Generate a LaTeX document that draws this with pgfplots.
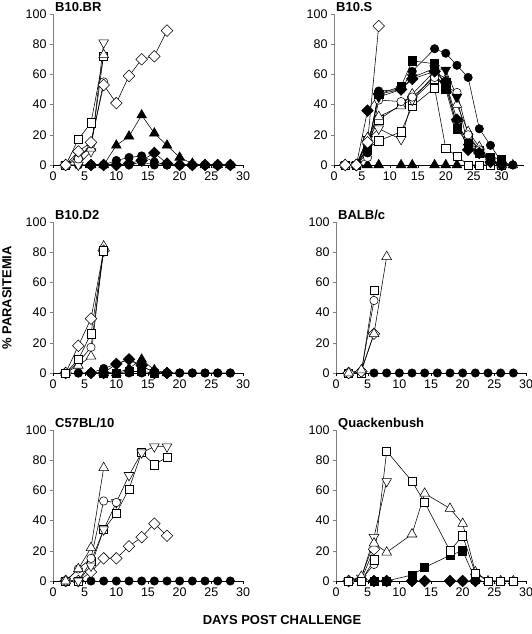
\documentclass[border=0pt]{standalone}
\usepackage{pgfplots}
\pgfplotsset{compat=1.18}
\usepackage{fontspec}
\setmainfont{Liberation Sans}
\pgfplotsset{
  panel/.style={scale only axis, width=190pt, height=151pt,
    xmin=0, xmax=30, ymin=0, ymax=100,
    axis lines*=left, xtick={0,5,...,30}, ytick={0,20,...,100},
    tick align=outside, major tick length=3pt,
    clip=false,
    tick label style={font=\fontsize{12.5}{14}\selectfont},
    /pgf/number format/assume math mode=true,
    x axis line style={black, line width=0.6pt},
    y axis line style={gray, line width=0.6pt},
    xtick style={black}, ytick style={gray},
    anchor=south west},
  ln/.style={black, line width=0.55pt},
  osq/.style={ln, mark=square*, mark size=4.1pt, mark options={solid, fill=white, draw=black, line width=0.55pt}},
  fsq/.style={ln, mark=square*, mark size=4.1pt, mark options={solid, fill=black, draw=black}},
  ocirc/.style={ln, mark=*, mark size=4.2pt, mark options={solid, fill=white, draw=black, line width=0.55pt}},
  fcirc/.style={ln, mark=*, mark size=4.2pt, mark options={solid, fill=black, draw=black}},
  otri/.style={ln, mark=triangle*, mark size=5.6pt, mark options={solid, fill=white, draw=black, line width=0.55pt}},
  ftri/.style={ln, mark=triangle*, mark size=5.6pt, mark options={solid, fill=black, draw=black}},
  odtri/.style={ln, mark=triangle*, mark size=5.6pt, mark options={solid, fill=white, draw=black, rotate=180, line width=0.55pt}},
  fdtri/.style={ln, mark=triangle*, mark size=5.6pt, mark options={solid, fill=black, draw=black, rotate=180}},
  odia/.style={ln, mark=square*, mark size=4.1pt, mark options={solid, fill=white, draw=black, rotate=45, line width=0.55pt}},
  fdia/.style={ln, mark=square*, mark size=4.1pt, mark options={solid, fill=black, draw=black, rotate=45}},
}
\newcommand{\ptitle}[1]{\node[anchor=base west, inner sep=0pt, font=\fontsize{13}{15}\selectfont\bfseries] at (rel axis cs:0,1) [xshift=2pt, yshift=2pt] {#1};}
\begin{document}
\begin{tikzpicture}
\useasboundingbox (0,0) rectangle (532pt,634pt);
% ---------------- B10.BR
\begin{axis}[panel, at={(53pt,469pt)}]
\addplot[fcirc] coordinates {(4,0)(6,0)(8,0)(10,0)(12,0)(14,2)(16,0)(18,0)(20,0)(22,0)(24,0)(26,0)(28,0)};
\addplot[fcirc] coordinates {(6,0)(8,0)(10,3)(12,5)(14,6)(16,2)(18,0)(20,0)(22,0)(24,0)(26,0)(28,0)};
\addplot[fdia] coordinates {(6,0)(8,0)(10,0)(12,1)(14,3)(16,8)(18,1)(20,0)(22,0)(24,0)(26,0)(28,0)};
\addplot[ftri] coordinates {(6,0)(8,0)(10,13)(12,19)(14,33)(16,21)(18,13)(20,5)(22,1)(24,0)(26,0)(28,0)};
\addplot[osq] coordinates {(2,0)(4,17)(6,28)(8,72)};
\addplot[odtri] coordinates {(2,0)(4,0)(6,9)(8,81)};
\addplot[otri] coordinates {(2,0)(4,6)(6,11)(8,73)};
\addplot[ocirc] coordinates {(2,0)(4,4)(6,14)(8,55)};
\addplot[odia] coordinates {(2,0)(4,9)(6,15)(8,53)(10,41)(12,59)(14,70)(16,72)(18,89)};
\ptitle{B10.BR}
\end{axis}
% ---------------- B10.S
\begin{axis}[panel, at={(334pt,469pt)}, xmax=34]
\addplot[ftri] coordinates {(6,0)(8,0)(12,0)(14,0)(18,0)(20,0)(22,0)};
\addplot[osq] coordinates {(2,0)(4,0)(6,11)(8,16)(12,22)(14,39)(18,51)(20,11)(22,6)(24,0)(26,0)(28,0)};
\addplot[osq] coordinates {(4,0)(6,15)(8,30)(12,40)(14,43)(18,57)(20,55)(22,25)(24,18)(26,10)(28,4)(30,0)};
\addplot[odtri] coordinates {(2,0)(4,0)(6,17)(8,24)(12,17)(14,43)(18,60)(20,52)(22,27)(24,16)(26,9)(28,2)(30,0)};
\addplot[otri] coordinates {(2,0)(4,0)(6,18)(8,32)(12,39)(14,47)(18,62)(20,57)(22,40)(24,22)(26,12)(28,3)(30,0)(32,0)};
\addplot[ocirc] coordinates {(2,0)(4,0)(6,5)(8,43)(12,42)(14,45)(18,58)(20,52)(22,48)(24,20)(26,10)(28,2)(30,0)(32,0)};
\addplot[fdia] coordinates {(4,0)(6,36)(8,47)(12,50)(14,57)(18,62)(20,55)(22,30)(24,10)(26,8)(28,2)(30,0)};
\addplot[fdtri] coordinates {(4,0)(6,12)(8,45)(12,50)(14,58)(18,64)(20,63)(22,45)(24,12)(26,8)(28,3)(30,0)};
\addplot[fsq] coordinates {(4,0)(6,10)(8,47)(12,52)(14,69)(18,67)(20,50)(22,24)(24,14)(26,8)(28,5)(30,4)};
\addplot[fcirc] coordinates {(4,0)(6,8)(8,49)(12,50)(14,62)(18,77)(20,74)(22,66)(24,58)(26,24)(28,13)(30,2)(32,0)};
\addplot[odia] coordinates {(2,0)(4,0)(6,15)(8,92)};
\ptitle{B10.S}
\end{axis}
% ---------------- B10.D2
\begin{axis}[panel, at={(53pt,261pt)}]
\addplot[fcirc] coordinates {(4,0)(6,0)(8,0)(10,0)(12,0)(14,0)(16,0)(18,0)(20,0)(22,0)(24,0)(26,0)(28,0)};
\addplot[fsq] coordinates {(8,0)(10,0)(12,1)(14,1)(16,0)};
\addplot[ftri] coordinates {(8,0)(10,0)(12,3)(14,9)(16,2)(18,0)};
\addplot[fdia] coordinates {(6,0)(8,0)(10,6)(12,9)(14,5)(16,0)(18,0)};
\addplot[fcirc] coordinates {(4,0)(6,0)(8,3)(10,6)(12,9)(14,4)(16,1)(18,0)(20,0)(22,0)(24,0)(26,0)(28,0)};
\addplot[ocirc] coordinates {(2,0)(4,7)(6,17)(8,81)};
\addplot[otri] coordinates {(2,0)(4,5)(6,11)(8,84)};
\addplot[odia] coordinates {(2,0)(4,18)(6,36)(8,81)};
\addplot[osq] coordinates {(2,0)(4,9)(6,26)(8,81)};
\ptitle{B10.D2}
\end{axis}
% ---------------- BALB/c
\begin{axis}[panel, at={(336pt,261pt)}]
\addplot[fcirc] coordinates {(6,0)(8,0)(10,0)(12,0)(14,0)(16,0)(18,0)(20,0)(22,0)(24,0)(26,0)(28,0)};
\addplot[osq] coordinates {(2,0)(4,0)(6,55)};
\addplot[ocirc] coordinates {(2,0)(4,1)(6,48)};
\addplot[odia] coordinates {(2,0)(4,1)(6,26)};
\addplot[otri] coordinates {(2,0)(4,2)(6,26)(8,77)};
\ptitle{BALB/c}
\end{axis}
% ---------------- C57BL/10
\begin{axis}[panel, at={(53pt,53pt)}]
\addplot[fcirc] coordinates {(6,0)(8,0)(10,0)(12,0)(14,0)(16,0)(18,0)(20,0)(22,0)(24,0)(26,0)(28,0)};
\addplot[odia] coordinates {(2,0)(4,0)(6,6)(8,15)(10,15)(12,23)(14,29)(16,38)(18,30)};
\addplot[osq] coordinates {(2,0)(4,0)(6,13)(8,34)(10,45)(12,61)(14,85)(16,77)(18,82)};
\addplot[odtri] coordinates {(2,0)(4,0)(6,10)(8,34)(10,52)(12,70)(14,85)(16,89)(18,89)};
\addplot[ocirc] coordinates {(2,0)(4,8)(6,15)(8,53)(10,52)};
\addplot[otri] coordinates {(2,0)(4,8)(6,22)(8,75)};
\ptitle{C57BL/10}
\end{axis}
% ---------------- Quackenbush
\begin{axis}[panel, at={(336pt,53pt)}]
\addplot[fcirc] coordinates {(6,0)(8,0)(12,0)(20,0)(22,0)};
\addplot[fdia] coordinates {(6,0)(8,0)(12,0)(14,0)(18,0)(20,0)(22,0)};
\addplot[fsq] coordinates {(6,0)(8,0)(12,4)(14,9)(18,17)(20,20)(22,1)};
\addplot[ocirc] coordinates {(2,0)(4,1)(6,11)};
\addplot[odia] coordinates {(2,0)(4,1)(6,21)};
\addplot[odtri] coordinates {(2,0)(4,2)(6,29)(8,66)};
\addplot[otri] coordinates {(2,0)(4,3)(6,25)(8,19)(12,31)(14,58)(18,48)(20,38)(22,6)(24,0)(26,0)(28,0)};
\addplot[osq] coordinates {(2,0)(4,0)(6,14)(8,86)(12,66)(14,52)(18,20)(20,30)(22,5)(24,0)(26,0)(28,0)};
\ptitle{Quackenbush}
\end{axis}
% ---------------- shared labels
\node[rotate=90, font=\fontsize{13}{15}\selectfont\bfseries] at (7pt,336pt) {\% PARASITEMIA};
\node[font=\fontsize{13}{15}\selectfont\bfseries] at (282pt,14pt) {DAYS POST CHALLENGE};
\end{tikzpicture}
\end{document}
